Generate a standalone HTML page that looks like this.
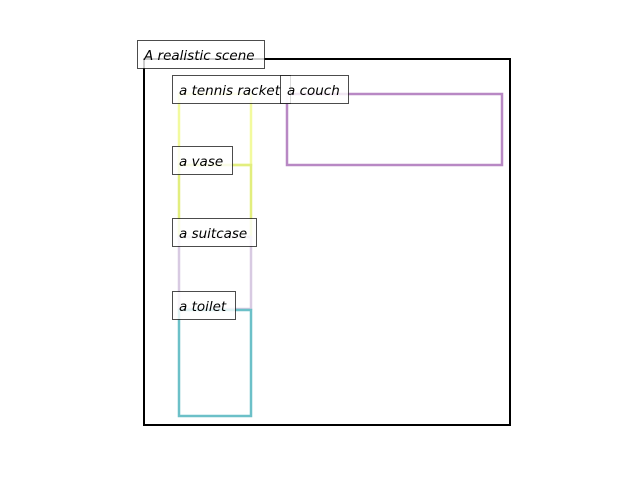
<!DOCTYPE html>
<html><head><meta charset="utf-8"><style>
html,body{margin:0;padding:0;background:#fff;}
svg{display:block;}
text{font-family:"DejaVu Sans","Liberation Sans",sans-serif;font-style:italic;font-size:13.5px;fill:#000;}
</style></head><body>
<svg id="chart" width="640" height="480" xmlns="http://www.w3.org/2000/svg"></svg>
<script>
const labels = ["A realistic scene","a tennis racket","a couch","a vase","a suitcase","a toilet"];
const boxX0 = [144,179,287,179,179,179];
const boxY0 = [59,94,94,165,237,310];
const boxX1 = [510,251,502,251,251,251];
const boxY1 = [425,165,165,237,309,416];
const colors = ["#000000","#f2fa9e","#b888c4","#e2ee7e","#d8cae2","#6cc0c8"];
const labelW = [127,118,68,60,84,63];
const NS="http://www.w3.org/2000/svg";
const svg=document.getElementById('chart');
const boxG=document.createElementNS(NS,'g');


svg.appendChild(boxG);
const labG=document.createElementNS(NS,'g');


svg.appendChild(labG);
for(let i=0;i<labels.length;i++){
  const r=document.createElementNS(NS,'rect');
  
  
  r.setAttribute('x',boxX0[i]);r.setAttribute('y',boxY0[i]);
  r.setAttribute('width',boxX1[i]-boxX0[i]);r.setAttribute('height',boxY1[i]-boxY0[i]);
  r.setAttribute('fill','none');r.setAttribute('stroke',colors[i]);r.setAttribute('stroke-width',i==0?2:2.5);
  boxG.appendChild(r);
}
for(let i=0;i<labels.length;i++){
  const g=document.createElementNS(NS,'g');
  
  
  const lx=boxX0[i]-7, ly=boxY0[i]-18;
  const r=document.createElementNS(NS,'rect');
  r.setAttribute('x',lx+0.5);r.setAttribute('y',ly-0.5);r.setAttribute('width',labelW[i]);r.setAttribute('height',28);
  r.setAttribute('fill','rgba(255,255,255,0.8)');r.setAttribute('stroke','rgba(0,0,0,0.7)');r.setAttribute('stroke-width',1);
  g.appendChild(r);
  const t=document.createElementNS(NS,'text');
  t.setAttribute('x',lx+7);t.setAttribute('y',ly+19);
  t.textContent=labels[i];
  g.appendChild(t);
  labG.appendChild(g);
}
</script>
</body></html>
